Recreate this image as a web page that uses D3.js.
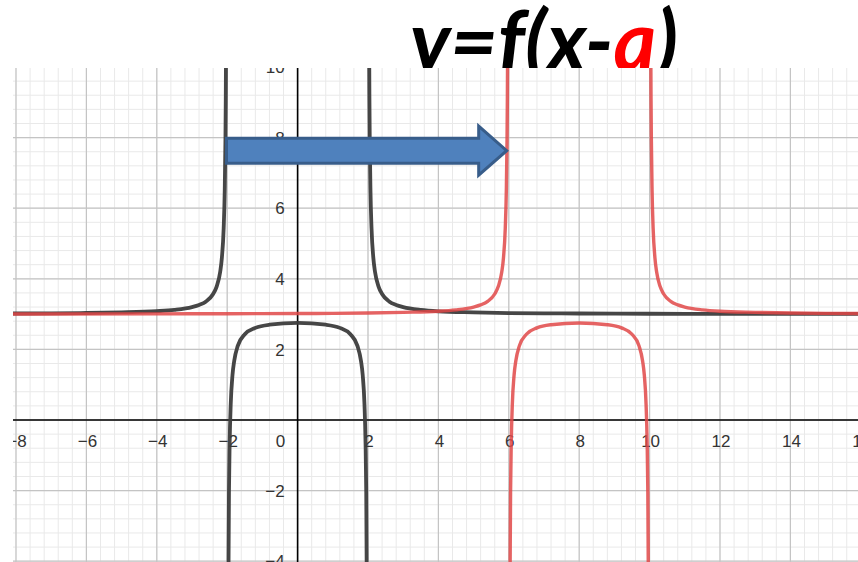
<!DOCTYPE html>
<html>
<head>
<meta charset="utf-8">
<script src="https://cdn.jsdelivr.net/npm/d3@7/dist/d3.min.js"></script>
<style>
  html, body { margin: 0; padding: 0; background: #fff; }
  svg { display: block; }
</style>
</head>
<body>
<svg id="chart" width="858" height="562"></svg>
<script>
// tick labels
const xTicks = [-8, -6, -4, -2, 0, 2, 4, 6, 8, 10, 12, 14, 16];
const yTicks = [-4, -2, 2, 4, 6, 8, 10];

// black curve y = f(x), three branches
const blackLeftX  = [-8.2, -7, -6, -5, -4, -3.5, -3, -2.8, -2.6, -2.4, -2.3, -2.2, -2.15, -2.1, -2.07, -2.05, -2.04, -2.03, -2.025];
const blackLeftY  = [3.016, 3.022, 3.031, 3.048, 3.083, 3.121, 3.2, 3.26, 3.36, 3.57, 3.78, 4.19, 4.61, 5.44, 6.51, 7.94, 9.19, 11.27, 12.94];
const blackMidX   = [-1.97, -1.95, -1.93, -1.9, -1.85, -1.8, -1.7, -1.5, -1.2, -0.8, 0, 0.8, 1.2, 1.5, 1.7, 1.8, 1.85, 1.9, 1.93, 1.95, 1.97];
const blackMidY   = [-5.4, -2.06, -0.64, 0.44, 1.27, 1.68, 2.10, 2.43, 2.61, 2.70, 2.75, 2.70, 2.61, 2.43, 2.10, 1.68, 1.27, 0.44, -0.64, -2.06, -5.4];
const blackRightX = [2.025, 2.03, 2.04, 2.05, 2.07, 2.1, 2.15, 2.2, 2.3, 2.4, 2.6, 2.8, 3, 3.5, 4, 5, 6, 7, 8, 10, 12, 14, 16.2];
const blackRightY = [12.94, 11.27, 9.19, 7.94, 6.51, 5.44, 4.61, 4.19, 3.78, 3.57, 3.36, 3.26, 3.2, 3.12, 3.08, 3.05, 3.03, 3.02, 3.017, 3.01, 3.007, 3.005, 3.004];

// red curve y = f(x - a), a = 8
const redLeftX  = [-8.2, -4, -2, 0, 1, 2, 3, 4, 4.5, 5, 5.2, 5.4, 5.6, 5.7, 5.8, 5.85, 5.9, 5.93, 5.95, 5.96, 5.97, 5.975];
const redLeftY  = [3.004, 3.007, 3.01, 3.017, 3.02, 3.03, 3.05, 3.08, 3.12, 3.2, 3.26, 3.36, 3.57, 3.78, 4.19, 4.61, 5.44, 6.51, 7.94, 9.19, 11.27, 12.94];
const redMidX   = [6.03, 6.05, 6.07, 6.1, 6.15, 6.2, 6.3, 6.5, 6.8, 7.2, 8, 8.8, 9.2, 9.5, 9.7, 9.8, 9.85, 9.9, 9.93, 9.95, 9.97];
const redMidY   = [-5.4, -2.06, -0.64, 0.44, 1.27, 1.68, 2.10, 2.43, 2.61, 2.70, 2.75, 2.70, 2.61, 2.43, 2.10, 1.68, 1.27, 0.44, -0.64, -2.06, -5.4];
const redRightX = [10.025, 10.03, 10.04, 10.05, 10.07, 10.1, 10.15, 10.2, 10.3, 10.4, 10.6, 10.8, 11, 11.5, 12, 13, 14, 15, 16.2];
const redRightY = [12.94, 11.27, 9.19, 7.94, 6.51, 5.44, 4.61, 4.19, 3.78, 3.57, 3.36, 3.26, 3.2, 3.12, 3.08, 3.05, 3.03, 3.02, 3.016];

// shift arrow (data units): from start to tip
const arrowFrom = [-2.02, 7.63];
const arrowTo = [5.94, 7.63];

const svg = d3.select('#chart');
const plot = {left: 13, top: 68, right: 858, bottom: 562};

const x = d3.scaleLinear().domain([-8, 16]).range([16, 16 + 24 * 35.2]);
const y = d3.scaleLinear().domain([-4, 10]).range([420 + 4 * 35.3, 420 - 10 * 35.3]);

// title (the plot covers its lower part)
const title = svg.append('text')
  .attr('x', 410)
  .attr('y', 71)
  .attr('textLength', 268)
  .attr('lengthAdjust', 'spacingAndGlyphs')
  .attr('font-family', 'Lato, "Open Sans", sans-serif')
  .attr('font-weight', 'bold')
  .attr('font-style', 'italic')
  .attr('font-size', 84);
title.append('tspan').attr('fill', '#000').text('y=f(x-');
title.append('tspan').attr('fill', '#ff0000').text('a');
title.append('tspan').attr('fill', '#000').text(')');

svg.append('defs').append('clipPath').attr('id', 'clip')
  .append('rect')
  .attr('x', plot.left).attr('y', plot.top)
  .attr('width', plot.right - plot.left).attr('height', plot.bottom - plot.top);

const g = svg.append('g').attr('clip-path', 'url(#clip)');

g.append('rect')
  .attr('x', plot.left).attr('y', plot.top)
  .attr('width', plot.right - plot.left).attr('height', plot.bottom - plot.top)
  .attr('fill', '#fff');

// grid: minor every 0.4, major every 2
const minorX = d3.range(-8.8, 16.5, 0.4);
const minorY = d3.range(-4.4, 10.5, 0.4);
const majorX = d3.range(-8, 17, 2);
const majorY = d3.range(-4, 11, 2);

g.append('g').attr('stroke', '#e9e9e9').attr('stroke-width', 1)
  .selectAll('line.vx').data(minorX).join('line')
  .attr('x1', d => x(d)).attr('x2', d => x(d))
  .attr('y1', plot.top).attr('y2', plot.bottom);
g.append('g').attr('stroke', '#e9e9e9').attr('stroke-width', 1)
  .selectAll('line.hy').data(minorY).join('line')
  .attr('y1', d => y(d)).attr('y2', d => y(d))
  .attr('x1', plot.left).attr('x2', plot.right);
g.append('g').attr('stroke', '#c4c4c4').attr('stroke-width', 1.2)
  .selectAll('line').data(majorX).join('line')
  .attr('x1', d => x(d)).attr('x2', d => x(d))
  .attr('y1', plot.top).attr('y2', plot.bottom);
g.append('g').attr('stroke', '#c4c4c4').attr('stroke-width', 1.2)
  .selectAll('line').data(majorY).join('line')
  .attr('y1', d => y(d)).attr('y2', d => y(d))
  .attr('x1', plot.left).attr('x2', plot.right);

// axes
g.append('line')
  .attr('x1', plot.left).attr('x2', plot.right)
  .attr('y1', y(0)).attr('y2', y(0))
  .attr('stroke', '#000').attr('stroke-width', 1.6);
g.append('line')
  .attr('x1', x(0)).attr('x2', x(0))
  .attr('y1', plot.top).attr('y2', plot.bottom)
  .attr('stroke', '#000').attr('stroke-width', 1.6);

// tick labels
g.append('g')
  .attr('font-family', '"Liberation Sans", Arial, sans-serif')
  .attr('font-size', 17)
  .attr('fill', '#333')
  .selectAll('text').data(xTicks).join('text')
  .attr('x', d => d === 0 ? x(0) - 17 : x(d) + 1)
  .attr('y', y(0) + 27)
  .attr('text-anchor', 'middle')
  .text(d => d < 0 ? '\u2212' + Math.abs(d) : d);

g.append('g')
  .attr('font-family', '"Liberation Sans", Arial, sans-serif')
  .attr('font-size', 17)
  .attr('fill', '#333')
  .selectAll('text').data(yTicks).join('text')
  .attr('x', x(0) - 13)
  .attr('y', d => y(d))
  .attr('dy', '0.36em')
  .attr('text-anchor', 'end')
  .text(d => d < 0 ? '\u2212' + Math.abs(d) : d);

// curves
const line = d3.line()
  .x(d => x(d[0]))
  .y(d => y(d[1]))
  .curve(d3.curveMonotoneX);

const zip = (xs, ys) => xs.map((v, i) => [v, ys[i]]);

const blackBranches = [
  zip(blackLeftX, blackLeftY),
  zip(blackMidX, blackMidY),
  zip(blackRightX, blackRightY)
];
const redBranches = [
  zip(redLeftX, redLeftY),
  zip(redMidX, redMidY),
  zip(redRightX, redRightY)
];

g.append('g')
  .attr('fill', 'none')
  .attr('stroke', '#3c3c3c')
  .attr('stroke-width', 3.8)
  .attr('stroke-opacity', 0.95)
  .selectAll('path').data(blackBranches).join('path')
  .attr('d', line);

g.append('g')
  .attr('fill', 'none')
  .attr('stroke', '#e04848')
  .attr('stroke-width', 3.4)
  .attr('stroke-opacity', 0.85)
  .selectAll('path').data(redBranches).join('path')
  .attr('d', line);

// block arrow
const ax0 = x(arrowFrom[0]), ax1 = x(arrowTo[0]), ay = y(arrowFrom[1]);
const shaftH = 12.5, headH = 24.5, headL = 28;
const arrowPath = d3.path();
arrowPath.moveTo(ax0, ay - shaftH);
arrowPath.lineTo(ax1 - headL, ay - shaftH);
arrowPath.lineTo(ax1 - headL, ay - headH);
arrowPath.lineTo(ax1, ay);
arrowPath.lineTo(ax1 - headL, ay + headH);
arrowPath.lineTo(ax1 - headL, ay + shaftH);
arrowPath.lineTo(ax0, ay + shaftH);
arrowPath.closePath();

g.append('path')
  .attr('d', arrowPath.toString())
  .attr('fill', '#4f81bd')
  .attr('stroke', '#385d8a')
  .attr('stroke-width', 3)
  .attr('stroke-linejoin', 'miter');
</script>
</body>
</html>
